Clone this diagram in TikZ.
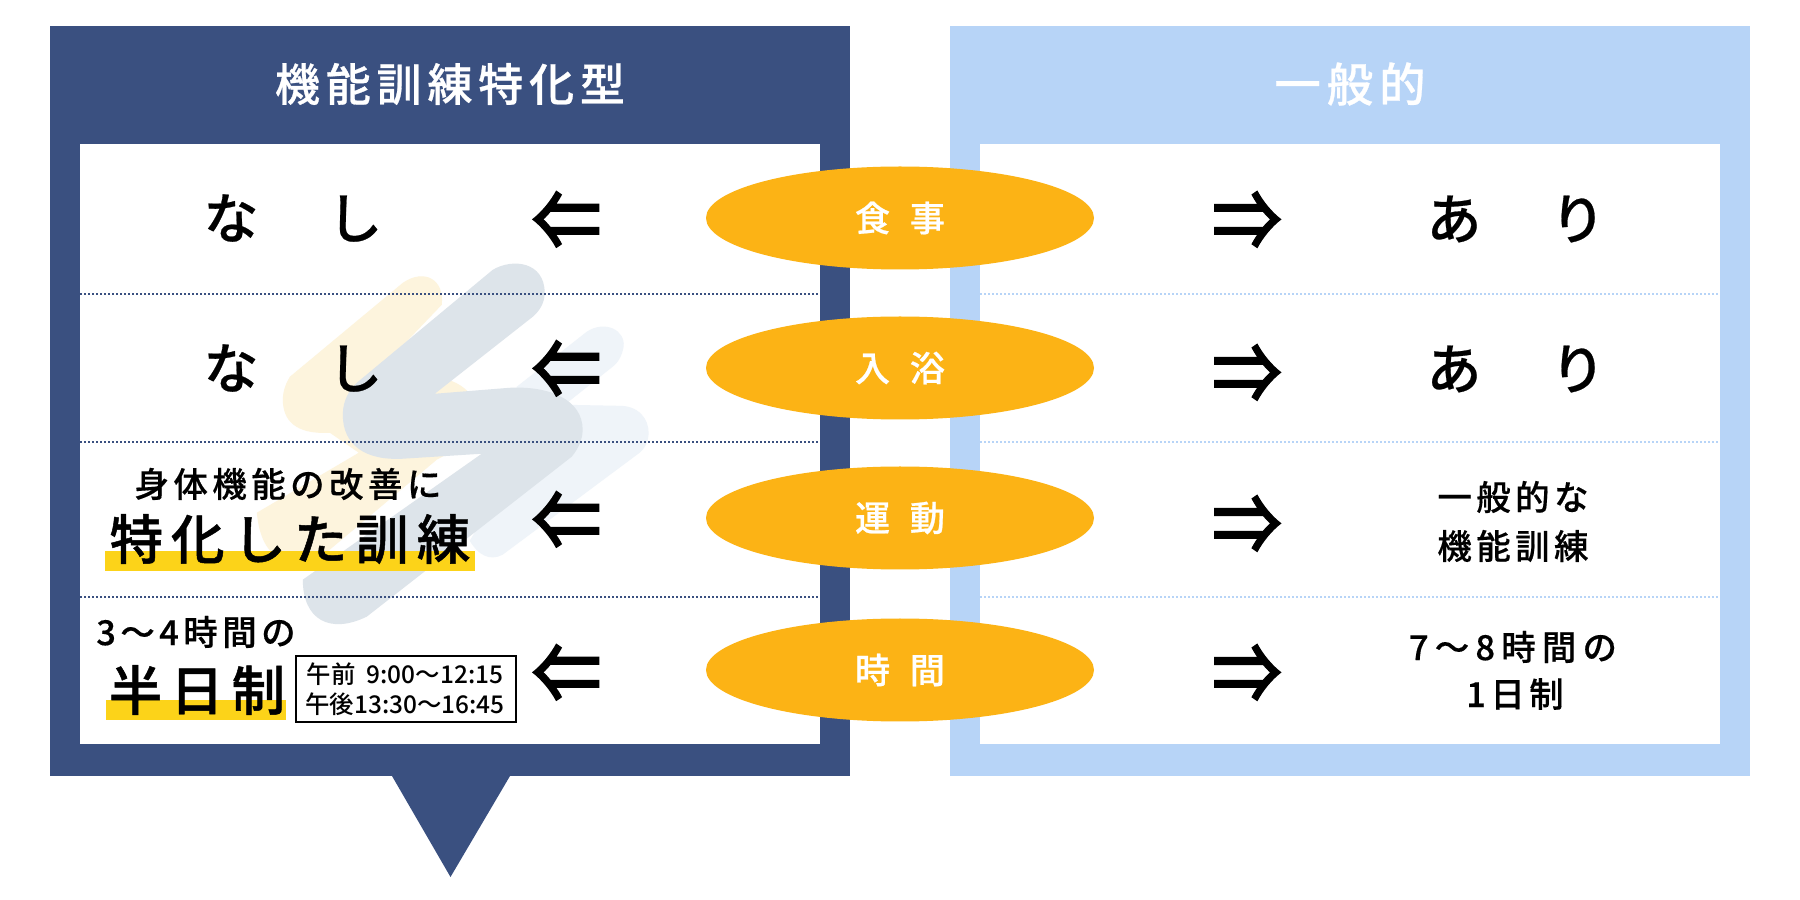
\documentclass[tikz,border=0pt]{standalone}
\usepackage{fontspec}
\setmainfont{Noto Sans CJK JP Medium}
\usetikzlibrary{shapes.geometric}
\definecolor{navyPanel}{HTML}{3A5080}
\definecolor{skyPanel}{HTML}{B7D4F7}
\definecolor{orangeOval}{HTML}{FCB315}
\definecolor{markerBar}{HTML}{FCD319}
\definecolor{blobDark}{HTML}{DDE4EA}
\definecolor{blobCream}{HTML}{FDF4DD}
\definecolor{blobPale}{HTML}{EFF4F9}
\newcommand*{\xMin}{0}
\newcommand*{\xMax}{18}
\newcommand*{\yMin}{0}
\newcommand*{\yMax}{9}
\tikzset{
  jptext/.style={inner sep=0pt,text=black},
  headtext/.style={jptext,text=white,font=\fontsize{12.8}{15}\selectfont\addfontfeature{LetterSpace=13,FakeBold=0.6}},
  nonetext/.style={jptext,font=\fontsize{15.6}{18}\selectfont\addfontfeature{LetterSpace=13,FakeBold=0.4}},
  linetext/.style={jptext,font=\fontsize{9.8}{12}\selectfont\addfontfeature{LetterSpace=13,FakeBold=0.4}},
  widetext/.style={jptext,font=\fontsize{9.8}{12}\selectfont\addfontfeature{LetterSpace=18,FakeBold=0.4}},
  bigtext/.style={jptext,font=\fontsize{15.2}{18}\selectfont\addfontfeature{LetterSpace=15,FakeBold=0.9}},
  tinytext/.style={jptext,font=\fontsize{6.95}{8}\selectfont},
  arrowtext/.style={jptext,yscale=1.18,transform shape,font=\fontsize{20}{24}\selectfont\addfontfeature{FakeBold=1.6}},
  oval/.style={ellipse,fill=orangeOval,minimum width=3.88cm,minimum height=1.03cm,inner sep=0pt,
    text=white,font=\fontsize{10}{11}\selectfont\addfontfeature{FakeBold=0.6}},
  rowline/.style={line width=0.015cm,dash pattern=on 0.02cm off 0.02cm}
}
\begin{document}
\begin{tikzpicture}
    \useasboundingbox (\xMin,\yMin) rectangle (\xMax,\yMax);
    \fill [white] (\xMin,\yMin) rectangle (\xMax,\yMax);
    % panels
    \fill [navyPanel] (0.5,1.24) rectangle (8.5,8.74);
    \fill [navyPanel] (3.92,1.24) -- (5.10,1.24) -- (4.505,0.23) -- cycle;
    \fill [white] (0.8,1.56) rectangle (8.2,7.56);
    \fill [skyPanel] (9.5,1.24) rectangle (17.5,8.74);
    \fill [white] (9.8,1.56) rectangle (17.2,7.56);
    % brush strokes
    \begin{scope}[x=0.01cm,y=-0.01cm,yshift=9cm]
        \fill [blobCream] (403,283) .. controls (425,268) and (445,280) .. (442,305) -- (375,375)
            -- (440,378) .. controls (465,382) and (480,400) .. (480,420) .. controls (480,440) and (455,450) .. (437,460)
            -- (330,550) .. controls (300,570) and (262,570) .. (257,513) -- (359,453) -- (330,433)
            .. controls (295,435) and (283,420) .. (283,400) .. controls (283,390) and (287,382) .. (290,377) -- cycle;
        \fill [blobPale] (587,332) .. controls (605,320) and (626,330) .. (624,347) .. controls (622,358) and (617,364) .. (613,367)
            -- (565,405) -- (617,406) .. controls (640,405) and (649,420) .. (649,433) .. controls (649,442) and (645,449) .. (640,453)
            -- (503,555) .. controls (490,562) and (478,555) .. (470,541) -- (520,460) -- (517,387) -- cycle;
        \fill [blobDark] (493,270) .. controls (513,258) and (545,262) .. (545,293) .. controls (545,303) and (540,311) .. (533,317)
            -- (435,394) -- (510,388) .. controls (550,386) and (583,400) .. (583,430) .. controls (583,440) and (578,450) .. (572,457)
            -- (367,617) .. controls (330,635) and (303,620) .. (303,580) -- (482,454) -- (403,459)
            .. controls (365,461) and (343,445) .. (343,415) .. controls (343,400) and (350,390) .. (357,383) -- cycle;
    \end{scope}
    % row lines
    \foreach \y in {6.06,4.58,3.03} {
        \draw [rowline,navyPanel] (0.8,\y) -- (8.2,\y);
        \draw [rowline,skyPanel] (9.8,\y) -- (17.2,\y);
    }
    % marker bars
    \fill [markerBar] (1.05,3.49) rectangle (4.75,3.29);
    \fill [markerBar] (1.06,2.00) rectangle (2.86,1.80);
    % titles
    \node [headtext] (titleSpecial) at (4.5,8.16) {機能訓練特化型};
    \node [headtext,font=\fontsize{13.2}{15}\selectfont\addfontfeature{LetterSpace=13,FakeBold=0.6}] (titleGeneral) at (13.5,8.16) {一般的};
    % left column
    \node [nonetext] (noneMeal) at (2.93,6.82) {な　し};
    \node [nonetext] (noneBath) at (2.93,5.32) {な　し};
    \node [linetext] (leftBody) at (2.88,4.16) {身体機能の改善に};
    \node [bigtext] (leftTrain) at (2.90,3.61) {特化した訓練};
    \node [linetext] (leftHours) at (1.96,2.68) {3～4時間の};
    \node [bigtext] (leftHalf) at (1.97,2.10) {半日制};
    \node [draw=black,line width=0.012cm,minimum width=2.2cm,minimum height=0.66cm] (timeBox) at (4.06,2.11) {};
    \node [tinytext] (timeAm) at (4.05,2.26) {午前\ \ 9:00～12:15};
    \node [tinytext] (timePm) at (4.05,1.96) {午後13:30～16:45};
    % right column
    \node [nonetext] (yesMeal) at (15.16,6.81) {あ　り};
    \node [nonetext] (yesBath) at (15.16,5.31) {あ　り};
    \node [linetext] (rightBody) at (15.13,4.03) {一般的な};
    \node [linetext] (rightTrain) at (15.13,3.54) {機能訓練};
    \node [widetext] (rightHours) at (15.13,2.53) {7～8時間の};
    \node [linetext] (rightDay) at (15.15,2.06) {1日制};
    % arrows and ovals
    \foreach \name/\yL/\yR in {Meal/6.79/6.79,Bath/5.30/5.26,Move/3.79/3.75,Time/2.26/2.26} {
        \node [arrowtext] (arrowL\name) at (5.665,\yL) {⇐};
        \node [arrowtext] (arrowR\name) at (12.47,\yR) {⇒};
    }
    \node [oval] (ovalMeal) at (9,6.82) {食\hspace{5.6pt}事};
    \node [oval] (ovalBath) at (9,5.32) {入\hspace{5.6pt}浴};
    \node [oval] (ovalMove) at (9,3.82) {運\hspace{5.6pt}動};
    \node [oval] (ovalTime) at (9,2.30) {時\hspace{5.6pt}間};
\end{tikzpicture}
\end{document}
